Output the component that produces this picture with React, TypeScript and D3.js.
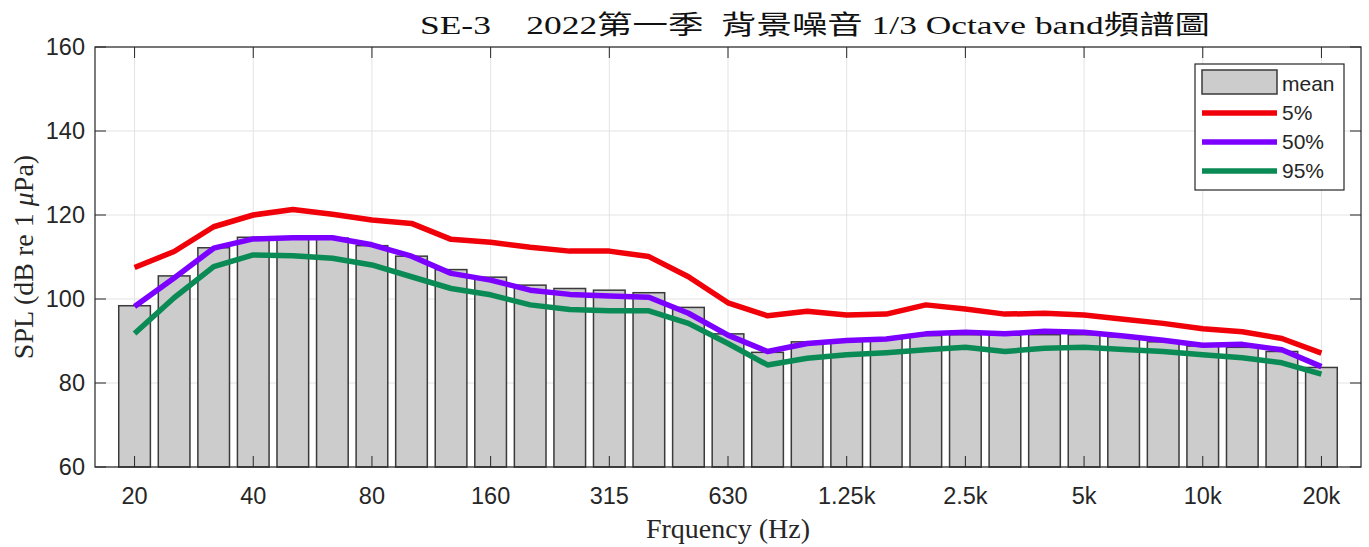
import { useEffect, useRef } from 'react';
import * as d3 from 'd3';

// 1/3 octave band centres
const bands = ['20', '25', '31.5', '40', '50', '63', '80', '100', '125', '160', '200', '250', '315', '400', '500', '630', '800', '1k', '1.25k', '1.6k', '2k', '2.5k', '3.15k', '4k', '5k', '6.3k', '8k', '10k', '12.5k', '16k', '20k'];
const tickLabels = ['20', '40', '80', '160', '315', '630', '1.25k', '2.5k', '5k', '10k', '20k'];
const yTicks = [60, 80, 100, 120, 140, 160];

const meanLevel = [98.4, 105.5, 112.2, 114.7, 114.6, 114.5, 112.7, 110.2, 107.0, 105.2, 103.3, 102.5, 102.1, 101.5, 98.0, 91.7, 87.3, 89.8, 90.2, 90.5, 91.3, 91.5, 91.4, 91.5, 91.5, 91.0, 89.8, 88.8, 88.5, 87.5, 83.7];
const p5 = [107.5, 111.3, 117.2, 120.0, 121.3, 120.2, 118.8, 118.0, 114.2, 113.5, 112.3, 111.4, 111.4, 110.1, 105.3, 99.1, 96.0, 97.1, 96.2, 96.4, 98.6, 97.6, 96.4, 96.6, 96.2, 95.2, 94.2, 92.9, 92.2, 90.6, 87.1];
const p50 = [98.2, 105.0, 112.1, 114.3, 114.6, 114.6, 112.9, 110.2, 106.1, 104.5, 102.1, 101.1, 100.7, 100.4, 96.6, 91.4, 87.5, 89.4, 90.1, 90.5, 91.7, 92.1, 91.7, 92.3, 92.1, 91.2, 90.2, 89.0, 89.2, 87.9, 83.9];
const p95 = [91.8, 100.3, 107.7, 110.5, 110.3, 109.7, 108.1, 105.3, 102.5, 101.0, 98.6, 97.5, 97.2, 97.2, 94.2, 89.4, 84.3, 85.9, 86.7, 87.2, 87.9, 88.5, 87.5, 88.3, 88.5, 88.0, 87.5, 86.7, 86.0, 84.8, 82.1];

const seriesNames = ['5%', '50%', '95%'];
const seriesColors = ['#f00008', '#7b00ff', '#0a8a55'];

export default function App() {
  const svgRef = useRef<SVGSVGElement>(null);

  useEffect(() => {
    if (!svgRef.current) return;
    const W = 1369, H = 547;
    const margin = { top: 47, right: 8, bottom: 80, left: 95 };
    const width = W - margin.left - margin.right;
    const height = H - margin.top - margin.bottom;

    const root = d3.select(svgRef.current);
    root.selectAll('*').remove();
    root.attr('width', W).attr('height', H);
    root.append('rect').attr('width', W).attr('height', H).attr('fill', '#fff');

    const svg = root.append('g').attr('transform', `translate(${margin.left},${margin.top})`);

    const x = d3.scaleLinear().domain([-1, bands.length]).range([0, width]);
    const y = d3.scaleLinear().domain([60, 160]).range([height, 0]);
    const tickIdx = tickLabels.map(t => bands.indexOf(t));

    // grid
    svg.append('g').selectAll('line').data(tickIdx).enter().append('line')
      .attr('x1', d => x(d)).attr('x2', d => x(d)).attr('y1', 0).attr('y2', height)
      .attr('stroke', '#e3e3e3').attr('stroke-width', 1);
    svg.append('g').selectAll('line').data(yTicks).enter().append('line')
      .attr('y1', d => y(d)).attr('y2', d => y(d)).attr('x1', 0).attr('x2', width)
      .attr('stroke', '#e3e3e3').attr('stroke-width', 1);

    // bars
    const bw = (x(1) - x(0)) * 0.8;
    svg.append('g').selectAll('rect').data(meanLevel).enter().append('rect')
      .attr('x', (_, i) => x(i) - bw / 2)
      .attr('y', d => y(d))
      .attr('width', bw)
      .attr('height', d => height - y(d))
      .attr('fill', '#cccccc')
      .attr('stroke', '#3a3a3a')
      .attr('stroke-width', 1.5);

    // percentile lines
    const line = d3.line<number>().x((_, i) => x(i)).y(d => y(d));
    [p5, p50, p95].forEach((s, k) => {
      svg.append('path').datum(s)
        .attr('d', line)
        .attr('fill', 'none')
        .attr('stroke', seriesColors[k])
        .attr('stroke-width', 5.5)
        .attr('stroke-linejoin', 'round');
    });

    // axes box and ticks
    const axisColor = '#262626';
    svg.append('rect').attr('width', width).attr('height', height)
      .attr('fill', 'none').attr('stroke', axisColor).attr('stroke-width', 1.2);
    const tl = 11;
    tickIdx.forEach(i => {
      svg.append('line').attr('x1', x(i)).attr('x2', x(i)).attr('y1', height).attr('y2', height - tl).attr('stroke', axisColor);
      svg.append('line').attr('x1', x(i)).attr('x2', x(i)).attr('y1', 0).attr('y2', tl).attr('stroke', axisColor);
    });
    yTicks.forEach(v => {
      svg.append('line').attr('x1', 0).attr('x2', tl).attr('y1', y(v)).attr('y2', y(v)).attr('stroke', axisColor);
      svg.append('line').attr('x1', width).attr('x2', width - tl).attr('y1', y(v)).attr('y2', y(v)).attr('stroke', axisColor);
    });

    const sans = 'Liberation Sans, Arial, sans-serif';
    const serif = 'Liberation Serif, Times New Roman, serif';

    svg.append('g').selectAll('text').data(tickLabels).enter().append('text')
      .attr('x', d => x(bands.indexOf(d)))
      .attr('y', height + 37)
      .attr('text-anchor', 'middle')
      .attr('font-family', sans).attr('font-size', 23.5).attr('fill', '#262626')
      .text(d => d);

    svg.append('g').selectAll('text').data(yTicks).enter().append('text')
      .attr('x', -10)
      .attr('y', d => y(d) + 8)
      .attr('text-anchor', 'end')
      .attr('font-family', sans).attr('font-size', 23.5).attr('fill', '#262626')
      .text(d => d);

    // axis titles
    svg.append('text')
      .attr('x', width / 2).attr('y', height + 71)
      .attr('text-anchor', 'middle')
      .attr('font-family', serif).attr('font-size', 28).attr('fill', '#262626')
      .text('Frquency (Hz)');

    const yl = root.append('text')
      .attr('transform', `translate(33,${margin.top + height / 2}) rotate(-90)`)
      .attr('text-anchor', 'middle')
      .attr('font-family', serif).attr('font-size', 28).attr('fill', '#262626');
    yl.append('tspan').text('SPL (dB re 1 ');
    yl.append('tspan').attr('font-style', 'italic').text('μ');
    yl.append('tspan').text('Pa)');

    // title
    root.append('text')
      .attr('x', 420).attr('y', 34)
      .attr('font-family', 'Liberation Serif, Noto Sans CJK TC, serif')
      .attr('font-size', 26).attr('fill', '#111')
      .attr('textLength', 790).attr('lengthAdjust', 'spacingAndGlyphs')
      .style('white-space', 'pre')
      .text('SE-3    2022第一季  背景噪音 1/3 Octave band頻譜圖');

    // legend
    const lg = root.append('g').attr('transform', 'translate(1195,64)');
    lg.append('rect').attr('width', 149).attr('height', 126)
      .attr('fill', '#fff').attr('stroke', axisColor).attr('stroke-width', 1.2);
    lg.append('rect').attr('x', 7).attr('y', 6).attr('width', 75).attr('height', 24)
      .attr('fill', '#cccccc').attr('stroke', '#3a3a3a').attr('stroke-width', 1.5);
    const legendText = ['mean', ...seriesNames];
    legendText.forEach((t, i) => {
      lg.append('text').attr('x', 87).attr('y', 20 + i * 29 + 7)
        .attr('font-family', sans).attr('font-size', 21).attr('fill', '#262626').text(t);
    });
    seriesNames.forEach((_, k) => {
      const ly = 49 + k * 29;
      lg.append('line').attr('x1', 7).attr('x2', 82).attr('y1', ly).attr('y2', ly)
        .attr('stroke', seriesColors[k]).attr('stroke-width', 5.5);
    });
  }, []);

  return (
    <div style={{ position: 'absolute', left: 0, top: 0 }}>
      <svg ref={svgRef} style={{ display: 'block' }}></svg>
    </div>
  );
}
